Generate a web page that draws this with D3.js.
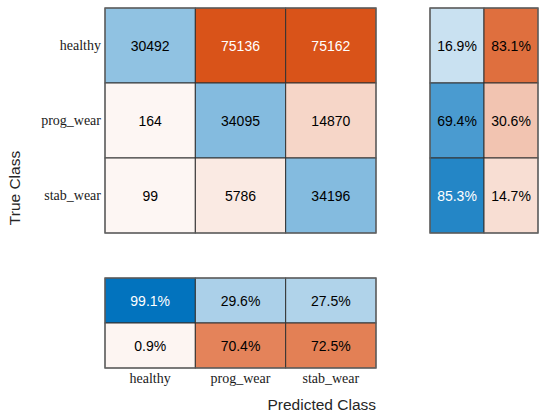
<!DOCTYPE html>
<html>
<head>
<meta charset="utf-8">
<script src="https://cdn.jsdelivr.net/npm/d3@7"></script>
<style>
  body { margin: 0; background: #fff; }
  .tick-label { font-family: "Liberation Serif", "Times New Roman", serif; font-size: 14px; fill: #1a1a1a; }
  .cell-text { font-family: "Liberation Sans", Arial, sans-serif; font-size: 14px; }
  .axis-title { font-family: "Liberation Sans", Arial, sans-serif; font-size: 15.5px; fill: #262626; }
</style>
</head>
<body>
<svg id="chart" width="550" height="418"></svg>
<script>
// class names, same order on both axes
var classes = ["healthy", "prog_wear", "stab_wear"];

// confusion counts, one array per true class
var healthyRow  = [30492, 75136, 75162];
var progWearRow = [164, 34095, 14870];
var stabWearRow = [99, 5786, 34196];
var counts = [healthyRow, progWearRow, stabWearRow];

// row summary: [correct %, incorrect %] per true class
var rowCorrect   = [16.9, 69.4, 85.3];
var rowIncorrect = [83.1, 30.6, 14.7];

// column summary: [correct %, incorrect %] per predicted class
var colCorrect   = [99.1, 29.6, 27.5];
var colIncorrect = [0.9, 70.4, 72.5];

var blue = [0, 114, 189], orange = [217, 83, 25];

// white -> base colour, with a small floor so near-zero cells get a tint
function shade(base, t) {
  var u = 0.05 + 0.95 * t;
  return base.map(function(c){ return Math.round(255 - (255 - c) * u); });
}
function rgb(a){ return "rgb(" + a.join(",") + ")"; }
function textColor(a){
  var lum = 0.299 * a[0] + 0.587 * a[1] + 0.114 * a[2];
  return lum < 130 ? "#fff" : "#000";
}

var svg = d3.select("#chart");

var x = d3.scaleBand().domain(classes).range([105, 376]);
var y = d3.scaleBand().domain(classes).range([8, 233]);
var xs = d3.scaleBand().domain(["correct", "incorrect"]).range([430, 538]);
var ys = d3.scaleBand().domain(["correct", "incorrect"]).range([278, 368]);

var maxCount = d3.max(counts, function(r){ return d3.max(r); });

// main matrix cells
var cells = [];
counts.forEach(function(row, i){
  row.forEach(function(v, j){
    var col = shade(i === j ? blue : orange, v / maxCount);
    cells.push({x: x(classes[j]), y: y(classes[i]), w: x.bandwidth(), h: y.bandwidth(), fill: col, label: String(v)});
  });
});

// row summary cells
classes.forEach(function(c, i){
  var a = shade(blue, rowCorrect[i] / 100), b = shade(orange, rowIncorrect[i] / 100);
  cells.push({x: xs("correct"), y: y(c), w: xs.bandwidth(), h: y.bandwidth(), fill: a, label: rowCorrect[i].toFixed(1) + "%"});
  cells.push({x: xs("incorrect"), y: y(c), w: xs.bandwidth(), h: y.bandwidth(), fill: b, label: rowIncorrect[i].toFixed(1) + "%"});
});

// column summary cells
classes.forEach(function(c, j){
  var a = shade(blue, colCorrect[j] / 100), b = shade(orange, colIncorrect[j] / 100);
  cells.push({x: x(c), y: ys("correct"), w: x.bandwidth(), h: ys.bandwidth(), fill: a, label: colCorrect[j].toFixed(1) + "%"});
  cells.push({x: x(c), y: ys("incorrect"), w: x.bandwidth(), h: ys.bandwidth(), fill: b, label: colIncorrect[j].toFixed(1) + "%"});
});

var g = svg.append("g");
g.selectAll("rect")
  .data(cells)
  .enter().append("rect")
  .attr("x", function(d){ return d.x; })
  .attr("y", function(d){ return d.y; })
  .attr("width", function(d){ return d.w; })
  .attr("height", function(d){ return d.h; })
  .attr("fill", function(d){ return rgb(d.fill); })
  .attr("stroke", "#333")
  .attr("stroke-width", 1);

g.selectAll("text")
  .data(cells)
  .enter().append("text")
  .attr("class", "cell-text")
  .attr("x", function(d){ return d.x + d.w / 2; })
  .attr("y", function(d){ return d.y + d.h / 2; })
  .attr("dy", "0.36em")
  .attr("text-anchor", "middle")
  .attr("fill", function(d){ return textColor(d.fill); })
  .text(function(d){ return d.label; });

// outer frames in grey like matlab axes
[[105, 8, 271, 225], [430, 8, 108, 225], [105, 278, 271, 90]].forEach(function(b){
  svg.append("rect").attr("x", b[0]).attr("y", b[1]).attr("width", b[2]).attr("height", b[3])
    .attr("fill", "none").attr("stroke", "#666").attr("stroke-width", 1.2);
});

// row tick labels
svg.append("g").selectAll("text")
  .data(classes)
  .enter().append("text")
  .attr("class", "tick-label")
  .attr("x", 101)
  .attr("y", function(d){ return y(d) + y.bandwidth() / 2; })
  .attr("dy", "0.3em")
  .attr("text-anchor", "end")
  .text(function(d){ return d; });

// column tick labels
svg.append("g").selectAll("text")
  .data(classes)
  .enter().append("text")
  .attr("class", "tick-label")
  .attr("x", function(d){ return x(d) + x.bandwidth() / 2; })
  .attr("y", 383)
  .attr("text-anchor", "middle")
  .text(function(d){ return d; });

svg.append("text")
  .attr("class", "axis-title")
  .attr("x", 376)
  .attr("y", 410)
  .attr("text-anchor", "end")
  .text("Predicted Class");

svg.append("text")
  .attr("class", "axis-title")
  .attr("transform", "translate(20,188) rotate(-90)")
  .attr("text-anchor", "middle")
  .text("True Class");
</script>
</body>
</html>
